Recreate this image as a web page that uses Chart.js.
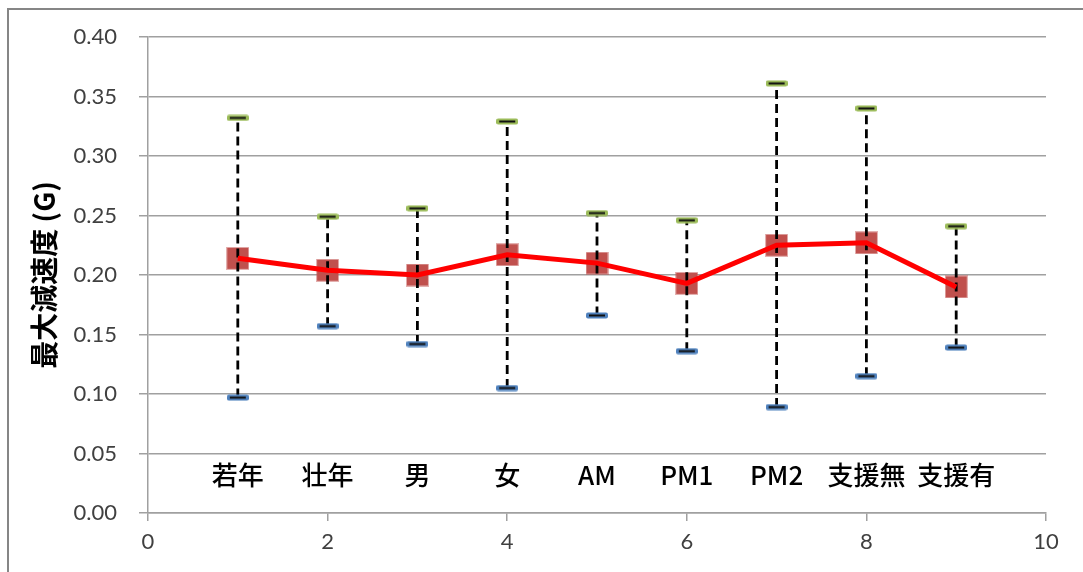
<!DOCTYPE html>
<html>
<head>
<meta charset="utf-8">
<script src="https://cdn.jsdelivr.net/npm/chart.js@4/dist/chart.umd.min.js"></script>
<style>
  html, body { margin: 0; padding: 0; background: #fff; }
  #wrap { width: 1083px; height: 572px; position: relative; }
</style>
</head>
<body>
<div id="wrap"><canvas id="c" width="1083" height="572"></canvas></div>
<script>
// ---- data ----
const categories = ['若年', '壮年', '男', '女', 'AM', 'PM1', 'PM2', '支援無', '支援有'];
const xValues = [1, 2, 3, 4, 5, 6, 7, 8, 9];
const meanValues = [0.214, 0.204, 0.200, 0.217, 0.210, 0.193, 0.225, 0.227, 0.190];
const maxValues = [0.332, 0.249, 0.256, 0.329, 0.252, 0.246, 0.361, 0.340, 0.241];
const minValues = [0.097, 0.157, 0.142, 0.105, 0.166, 0.136, 0.089, 0.115, 0.139];
const yAxisTitle = '最大減速度 (G)';

// ---- marker images ----
function dashMarker(fill) {
  const c = document.createElement('canvas');
  c.width = 22; c.height = 7;
  const g = c.getContext('2d');
  g.fillStyle = fill;
  g.beginPath();
  g.roundRect(0, 0.5, 22, 6, 2);
  g.fill();
  g.fillStyle = '#111';
  g.fillRect(3, 2.5, 16, 2);
  return c;
}
function squareMarker() {
  const c = document.createElement('canvas');
  c.width = 23; c.height = 23;
  const g = c.getContext('2d');
  g.fillStyle = 'rgba(192,80,77,0.45)';
  g.fillRect(0, 0, 23, 23);
  g.fillStyle = '#C0504D';
  g.fillRect(1, 1, 21, 21);
  return c;
}
const greenDash = dashMarker('#9BBB59');
const blueDash = dashMarker('#4F81BD');
const redSquare = squareMarker();

const pts = (arr) => arr.map((v, i) => ({ x: xValues[i], y: v }));

const datasets = [
  { label: 'mean-line', data: pts(meanValues), showLine: true, borderColor: '#FF0000', borderWidth: 5,
    pointRadius: 0, order: 0 },
  { label: 'max', data: pts(maxValues), showLine: false, pointStyle: greenDash, order: 1 },
  { label: 'min', data: pts(minValues), showLine: false, pointStyle: blueDash, order: 1 },
  { label: 'mean', data: pts(meanValues), showLine: false, pointStyle: redSquare, order: 3 }
];
xValues.forEach((x, i) => {
  datasets.push({
    label: 'range' + i,
    data: [{ x: x, y: minValues[i] }, { x: x, y: maxValues[i] }],
    showLine: true, borderColor: '#000', borderWidth: 2.8, borderDash: [9, 5],
    pointRadius: 0, order: 2
  });
});

const decorPlugin = {
  id: 'decor',
  beforeDraw(chart) {
    const ctx = chart.ctx;
    ctx.save();
    ctx.fillStyle = '#fff';
    ctx.fillRect(0, 0, chart.width, chart.height);
    ctx.strokeStyle = '#868686';
    ctx.lineWidth = 2;
    ctx.beginPath();
    ctx.moveTo(8, chart.height + 2);
    ctx.lineTo(8, 9);
    ctx.lineTo(chart.width + 2, 9);
    ctx.stroke();
    ctx.restore();
  },
  afterDraw(chart) {
    const ctx = chart.ctx;
    const xs = chart.scales.x, ys = chart.scales.y;
    ctx.save();
    ctx.fillStyle = '#000';
    ctx.font = '500 26px "Noto Sans CJK JP"';
    ctx.textAlign = 'center';
    ctx.textBaseline = 'middle';
    const ly = ys.getPixelForValue(0.032);
    categories.forEach((c, i) => {
      ctx.fillText(c, xs.getPixelForValue(xValues[i]), ly);
    });
    // y axis title
    ctx.translate(44, (chart.chartArea.top + chart.chartArea.bottom) / 2);
    ctx.rotate(-Math.PI / 2);
    ctx.font = 'bold 28px "Noto Sans CJK JP"';
    ctx.fillText(yAxisTitle, 0, 0);
    ctx.restore();
  }
};

new Chart(document.getElementById('c'), {
  type: 'scatter',
  data: { datasets },
  options: {
    responsive: false,
    animation: false,
    layout: { padding: { top: 37, right: 37, left: 0, bottom: 0 } },
    plugins: { legend: { display: false }, tooltip: { enabled: false } },
    scales: {
      x: {
        type: 'linear', min: 0, max: 10,
        ticks: { stepSize: 2, color: '#404040', font: { family: 'Lato', size: 22 }, padding: 8, maxRotation: 0 },
        grid: { drawOnChartArea: false, drawTicks: true, tickLength: 8, color: '#a0a0a0', lineWidth: 1.5 },
        border: { display: true, color: '#a0a0a0', width: 1.5 },
        afterFit(s) { s.height = 59; }
      },
      y: {
        type: 'linear', min: 0, max: 0.4,
        ticks: { stepSize: 0.05, color: '#404040', font: { family: 'Lato', size: 22 }, padding: 22,
                 callback: (v) => Number(v).toFixed(2) },
        grid: { drawOnChartArea: true, drawTicks: true, tickLength: 9, color: '#a0a0a0', lineWidth: 1.5 },
        border: { display: true, color: '#a0a0a0', width: 1.5 },
        afterFit(s) { s.width = 148; }
      }
    }
  },
  plugins: [decorPlugin]
});
</script>
</body>
</html>
